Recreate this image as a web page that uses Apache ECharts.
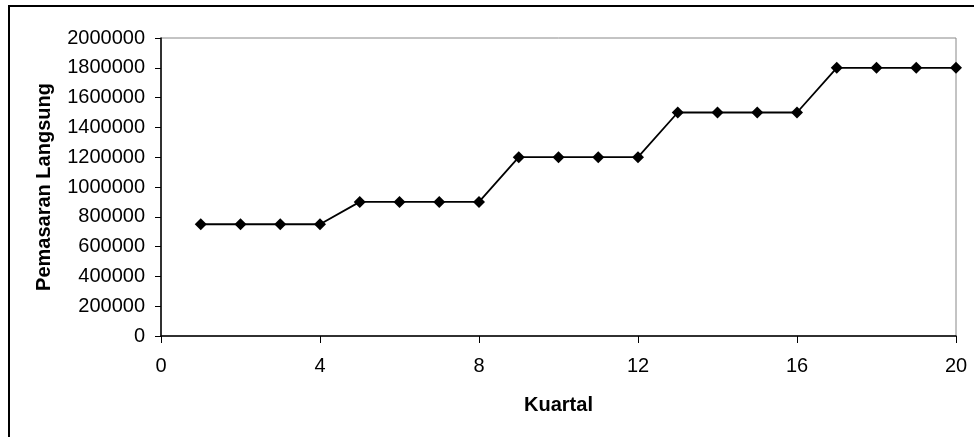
<!DOCTYPE html>
<html>
<head>
<meta charset="utf-8">
<script src="https://cdn.jsdelivr.net/npm/echarts@6/dist/echarts.min.js"></script>
<style>html,body{margin:0;padding:0;background:#fff}#c{width:974px;height:437px}</style>
</head>
<body>
<div id="c"></div>
<script>
var quarters = [1,2,3,4,5,6,7,8,9,10,11,12,13,14,15,16,17,18,19,20];
var values = [750000,750000,750000,750000,900000,900000,900000,900000,1200000,1200000,1200000,1200000,1500000,1500000,1500000,1500000,1800000,1800000,1800000,1800000];
var xTicks = [0,4,8,12,16,20];
var yTicks = [0,200000,400000,600000,800000,1000000,1200000,1400000,1600000,1800000,2000000];

var chart = echarts.init(document.getElementById('c'), null, {renderer:'canvas'});
var font = 'Liberation Sans, Arial, sans-serif';
chart.setOption({
  animation: false,
  backgroundColor: '#fff',
  graphic: [
    {type:'line', shape:{x1:8, y1:6, x2:974, y2:6}, style:{stroke:'#000', lineWidth:2}},
    {type:'line', shape:{x1:9, y1:5, x2:9, y2:437}, style:{stroke:'#000', lineWidth:2}}
  ],
  grid: {left:161, top:38, right:18, bottom:101, show:true, borderColor:'#888', borderWidth:1, backgroundColor:'transparent'},
  xAxis: {
    type:'value', min:xTicks[0], max:xTicks[xTicks.length-1], interval:4,
    name:'Kuartal', nameLocation:'middle', nameGap:59,
    nameTextStyle:{fontFamily:font, fontSize:20, fontWeight:'bold', color:'#000'},
    axisLine:{show:true, onZero:false, lineStyle:{color:'#000', width:1.5}},
    axisTick:{show:true, inside:false, length:7, lineStyle:{color:'#000', width:1}},
    axisLabel:{fontFamily:font, fontSize:20, color:'#000', margin:20, formatter:function(v){return String(v);}},
    splitLine:{show:false}
  },
  yAxis: {
    type:'value', min:yTicks[0], max:yTicks[yTicks.length-1], interval:200000,
    name:'Pemasaran Langsung', nameLocation:'middle', nameGap:107, nameRotate:90,
    nameTextStyle:{fontFamily:font, fontSize:20, fontWeight:'bold', color:'#000'},
    axisLine:{show:true, onZero:false, lineStyle:{color:'#000', width:1.5}},
    axisTick:{show:true, inside:false, length:6, lineStyle:{color:'#000', width:1}},
    axisLabel:{fontFamily:font, fontSize:20, color:'#000', margin:16, formatter:function(v){return String(v);}},
    splitLine:{show:false}
  },
  series: [{
    type:'line',
    data: quarters.map(function(q,i){return [q, values[i]];}),
    symbol:'diamond', symbolSize:12,
    itemStyle:{color:'#000'},
    lineStyle:{color:'#000', width:1.8},
    clip:false
  }]
});
</script>
</body>
</html>
